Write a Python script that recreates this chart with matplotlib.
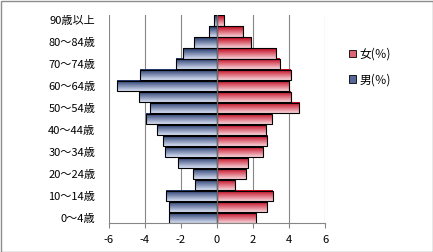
import numpy as np
import matplotlib
matplotlib.use("Agg")
import matplotlib.pyplot as plt
from matplotlib.colors import to_rgb
from matplotlib.patches import Patch

plt.rcParams['font.family'] = ['Noto Sans CJK JP', 'DejaVu Sans']

categories = ["0～4歳", "5～9歳", "10～14歳", "15～19歳", "20～24歳", "25～29歳",
              "30～34歳", "35～39歳", "40～44歳", "45～49歳", "50～54歳", "55～59歳",
              "60～64歳", "65～69歳", "70～74歳", "75～79歳", "80～84歳", "85～89歳",
              "90歳以上"]
male = [-2.63, -2.63, -2.79, -1.19, -1.35, -2.13, -2.85, -3.01, -3.31, -3.90,
        -3.68, -4.29, -5.52, -4.23, -2.29, -1.90, -1.24, -0.46, -0.15]
female = [2.14, 2.77, 3.08, 0.98, 1.61, 1.72, 2.53, 2.77, 2.71, 3.03,
          4.54, 4.08, 3.99, 4.08, 3.47, 3.27, 1.88, 1.47, 0.42]
xticks = [-6, -4, -2, 0, 2, 4, 6]
series_names = ["女(％)", "男(％)"]

W, H = 433, 252
fig = plt.figure(figsize=(W / 100, H / 100), dpi=100)
fig.patch.set_facecolor('white')
ax = fig.add_axes([108.5 / W, (H - 223.3) / H, 216.8 / W, 208.3 / H])

def grad(top, bottom, n=64):
    t = np.linspace(0, 1, n)[:, None]
    a = np.array(to_rgb(top)); b = np.array(to_rgb(bottom))
    return (a * (1 - t) + b * t)[:, None, :]

blue_g = grad('#1F3468', '#D8E0F4')
red_g = grad('#C00018', '#F8D4DA')

y = np.arange(len(categories))
hgt = 0.94
bm = ax.barh(y, male, height=hgt, facecolor='none', edgecolor='black', linewidth=0.8, zorder=3)
bf = ax.barh(y, female, height=hgt, facecolor='none', edgecolor='black', linewidth=0.8, zorder=3)
for bars, g in ((bm, blue_g), (bf, red_g)):
    for p in bars.patches:
        x0, y0 = p.get_x(), p.get_y()
        w, h = p.get_width(), p.get_height()
        ax.imshow(g, extent=[min(x0, x0 + w), max(x0, x0 + w), y0, y0 + h],
                  aspect='auto', zorder=2, interpolation='bilinear')

ax.set_xlim(-6, 6)
ax.set_ylim(-0.5, len(categories) - 0.5)
ax.set_xticks(xticks)
ax.set_xticklabels([str(v) for v in xticks])
ax.set_yticks(y[::2])
ax.set_yticklabels(categories[::2])
ax.tick_params(axis='y', length=0, pad=9.5, labelsize=8)
ax.tick_params(axis='x', length=3.5, width=0.8, color='#868686', pad=5, labelsize=8)
for s in ['top', 'right', 'left']:
    ax.spines[s].set_visible(False)
ax.spines['bottom'].set_color('#868686')
ax.spines['bottom'].set_linewidth(0.8)
ax.grid(axis='x', color='#868686', linewidth=0.8, zorder=0)
ax.axvline(0, color='#6a6a6a', linewidth=0.9, zorder=4)
ax.set_axisbelow(True)

handles = [Patch(facecolor='#DC6474', edgecolor='black', linewidth=0.6),
           Patch(facecolor='#56689A', edgecolor='black', linewidth=0.6)]
fig.legend(handles, series_names, loc='upper left', bbox_to_anchor=(344 / W, 1 - 43 / H),
           frameon=False, fontsize=8.5, handlelength=0.6, handleheight=0.6,
           handletextpad=0.3, labelspacing=1.05, borderaxespad=0)

fig.add_artist(plt.Rectangle((0.5 / W, 0.5 / H), 1 - 1 / W, 1 - 1 / H,
                             transform=fig.transFigure, fill=False,
                             edgecolor='#8c8c8c', linewidth=1))
fig.savefig('out.png', dpi=100)
